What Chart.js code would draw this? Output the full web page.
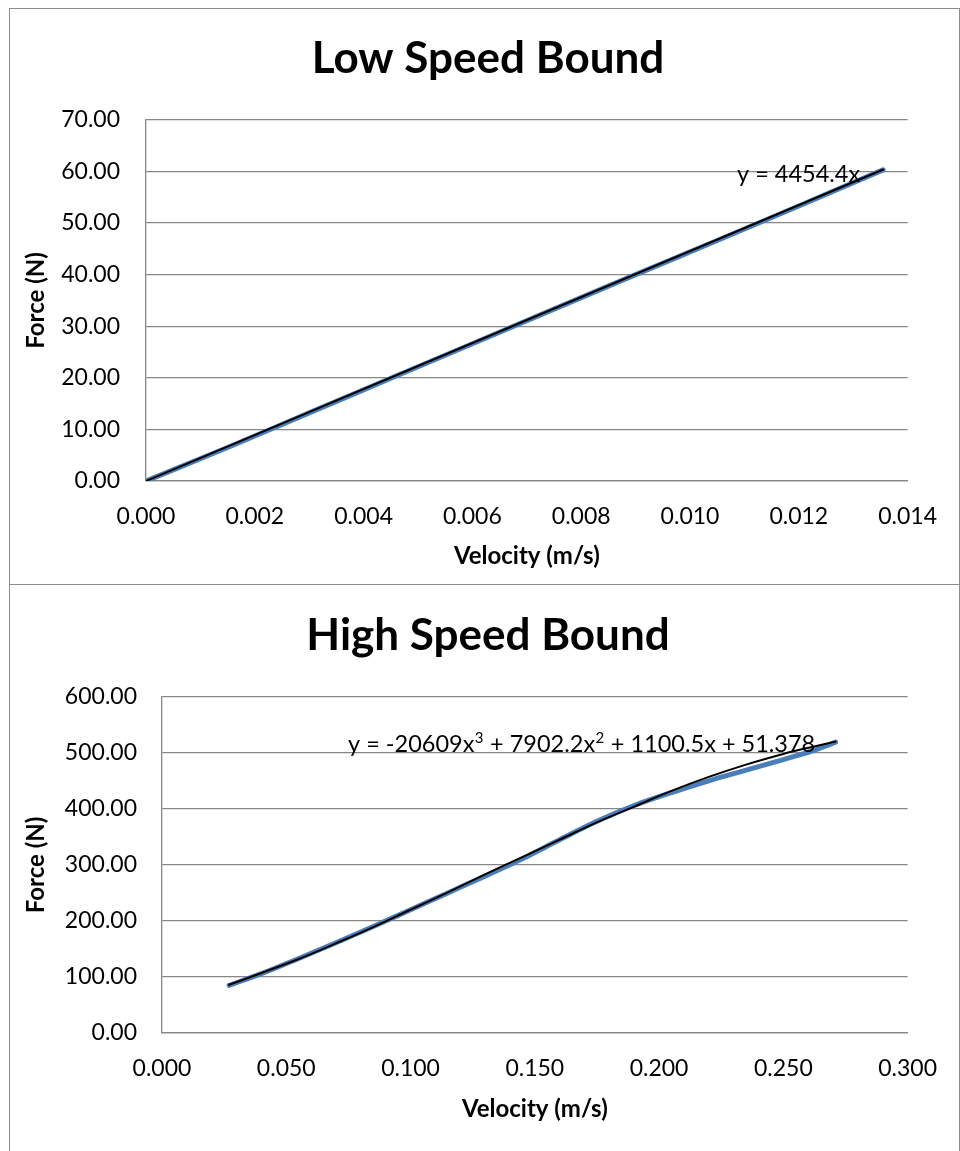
<!DOCTYPE html>
<html><head><meta charset="utf-8">
<script src="https://cdn.jsdelivr.net/npm/chart.js@4.4.1/dist/chart.umd.min.js"></script>
<style>
html,body{margin:0;padding:0;background:#fff;overflow:hidden;width:960px;height:1151px}
.box{position:absolute;border:1px solid #8c8c8c;box-sizing:border-box}
canvas{position:absolute}
</style></head><body>
<div class="box" style="left:9px;top:8px;width:951px;height:577px"></div>
<div class="box" style="left:9px;top:584px;width:951px;height:600px"></div>
<canvas id="low" width="949" height="575" style="left:10px;top:9px"></canvas>
<canvas id="high" width="949" height="566" style="left:10px;top:585px"></canvas>
<script>
// ---- data ----
const lowVelocity = [0, 0.0015, 0.003, 0.0045, 0.006, 0.0075, 0.009, 0.0105, 0.012, 0.01355];
const lowForce    = [0, 6.5, 13.2, 19.9, 26.6, 33.3, 40.0, 46.6, 53.3, 60.3];
const lowTrendV   = [0, 0.01355];
const lowTrendF   = [0, 60.36];
const lowXTicks = ['0.000','0.002','0.004','0.006','0.008','0.010','0.012','0.014'];
const lowYTicks = ['0.00','10.00','20.00','30.00','40.00','50.00','60.00','70.00'];
const lowEquation = 'y = 4454.4x';

const highVelocity = [0.027, 0.040, 0.055, 0.070, 0.085, 0.100, 0.115, 0.130, 0.145, 0.160, 0.175, 0.190, 0.205, 0.220, 0.235, 0.250, 0.262, 0.271];
const highForce    = [85, 106, 133, 161, 190, 220, 250, 280, 311, 345, 378, 406, 429, 450, 469, 488, 504, 519];
const highTrendV   = [0.027, 0.040, 0.055, 0.070, 0.085, 0.100, 0.115, 0.130, 0.145, 0.160, 0.175, 0.190, 0.205, 0.220, 0.235, 0.250, 0.262, 0.271];
const highTrendF   = [86, 107, 132, 160, 189, 220, 251, 283, 314, 345, 376, 404, 432, 457, 479, 498, 511, 520];
const highXTicks = ['0.000','0.050','0.100','0.150','0.200','0.250','0.300'];
const highYTicks = ['0.00','100.00','200.00','300.00','400.00','500.00','600.00'];
const highEquation = 'y = -20609x\u00B3 + 7902.2x\u00B2 + 1100.5x + 51.378';

const titles = ['Low Speed Bound', 'High Speed Bound'];
const xTitle = 'Velocity (m/s)';
const yTitle = 'Force (N)';

// ---- helpers ----
const FONT = 'Lato';
const GRID = '#868686';
const pts = (xs, ys) => xs.map((x, i) => ({x, y: ys[i]}));
const SUP = { '\u00B2': '2', '\u00B3': '3' };

const titleShift = {
  id: 'titleShift',
  afterLayout(chart, args, opts) {
    const t = chart.titleBlock;
    if (t) { const w = t.right - t.left; t.left = opts.center - w / 2; t.right = opts.center + w / 2; }
  }
};
const eqLabel = {
  id: 'eqLabel',
  afterDatasetsDraw(chart, args, opts) {
    const ctx = chart.ctx;
    ctx.save();
    ctx.fillStyle = '#000';
    ctx.textAlign = 'left';
    ctx.textBaseline = 'alphabetic';
    let x = opts.x;
    let buf = '';
    const flush = () => {
      if (!buf) return;
      ctx.font = opts.size + 'px ' + FONT;
      ctx.fillText(buf, x, opts.y);
      x += ctx.measureText(buf).width;
      buf = '';
    };
    for (const ch of opts.text) {
      if (SUP[ch]) {
        flush();
        ctx.font = Math.round(opts.size * 0.62) + 'px ' + FONT;
        ctx.fillText(SUP[ch], x + 0.5, opts.y - opts.size * 0.4);
        x += ctx.measureText(SUP[ch]).width + 1;
      } else buf += ch;
    }
    flush();
    ctx.restore();
  }
};

function makeChart(id, cfg) {
  return new Chart(document.getElementById(id), {
    type: 'scatter',
    data: {
      datasets: [
        { data: pts(cfg.tv, cfg.tf), showLine: true, borderColor: '#000', borderWidth: 2,
          pointRadius: 0, tension: 0.4, borderCapStyle: 'round' },
        { data: pts(cfg.v, cfg.f), showLine: true, borderColor: '#4a7ebb', borderWidth: 5,
          pointRadius: 0, cubicInterpolationMode: 'monotone', borderCapStyle: 'round', borderJoinStyle: 'round' }
      ]
    },
    options: {
      responsive: false, animation: false, devicePixelRatio: 1,
      layout: { padding: { left: 0, right: 49, top: 0, bottom: 0 } },
      plugins: {
        legend: { display: false }, tooltip: { enabled: false },
        title: { display: true, text: cfg.title, color: '#000',
          font: { family: FONT, size: 44, weight: 'bold' },
          padding: { top: cfg.tPadTop, bottom: cfg.tPadBottom } },
        titleShift: { center: 478 },
        eqLabel: { text: cfg.eq, x: cfg.eqX, y: cfg.eqY, size: cfg.eqSize }
      },
      scales: {
        x: {
          type: 'linear', min: 0, max: cfg.xMax,
          ticks: { stepSize: cfg.xStep, color: '#000', font: { family: FONT, size: 23 }, padding: 22,
            maxRotation: 0, autoSkip: false, callback: (v, i) => cfg.xTicks[i] },
          grid: { display: false, drawTicks: false },
          border: { display: true, color: GRID, width: 1.3 },
          title: { display: true, text: xTitle, color: '#000', font: { family: FONT, size: 24, weight: 'bold' },
            padding: { top: 0, bottom: cfg.xtPad } },
          afterFit: s => { s.height = cfg.xH; }
        },
        y: {
          type: 'linear', min: 0, max: cfg.yMax,
          ticks: { stepSize: cfg.yStep, color: '#000', font: { family: FONT, size: 23 }, padding: cfg.yPad,
            callback: (v, i) => cfg.yTicks[i] },
          grid: { display: true, drawTicks: false, color: GRID, lineWidth: 1.3 },
          border: { display: true, color: GRID, width: 1.3 },
          title: { display: true, text: yTitle, color: '#000', font: { family: FONT, size: 24, weight: 'bold' },
            padding: { top: 12, bottom: 0 } },
          afterFit: s => { s.width = cfg.yW; }
        }
      }
    },
    plugins: [titleShift, eqLabel]
  });
}

makeChart('low', {
  v: lowVelocity, f: lowForce, tv: lowTrendV, tf: lowTrendF,
  title: titles[0], eq: lowEquation, eqX: 727, eqY: 173, eqSize: 23.5,
  xMax: 0.014, xStep: 0.002, yMax: 70, yStep: 10, xTicks: lowXTicks, yTicks: lowYTicks,
  tPadTop: 23, tPadBottom: 35, xH: 103, xtPad: 13, yW: 136, yPad: 26
});
makeChart('high', {
  v: highVelocity, f: highForce, tv: highTrendV, tf: highTrendF,
  title: titles[1], eq: highEquation, eqX: 338, eqY: 167, eqSize: 23.5,
  xMax: 0.3, xStep: 0.05, yMax: 600, yStep: 100, xTicks: highXTicks, yTicks: highYTicks,
  tPadTop: 24, tPadBottom: 35, xH: 118, xtPad: 27, yW: 152, yPad: 25
});
</script>
</body></html>
